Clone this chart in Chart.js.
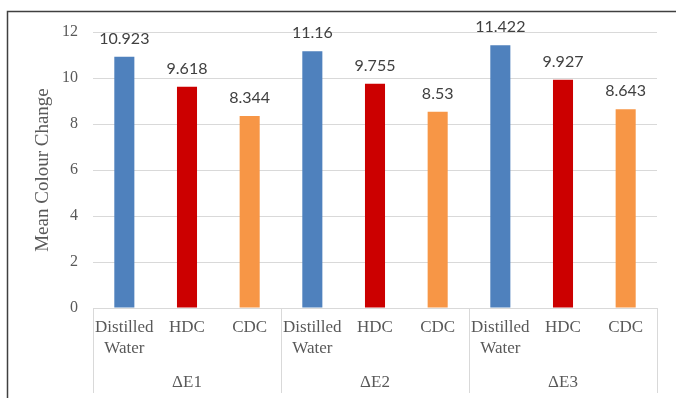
<!DOCTYPE html>
<html>
<head>
<meta charset="utf-8">
<script src="https://cdn.jsdelivr.net/npm/chart.js@4/dist/chart.umd.min.js"></script>
<style>
  html, body { margin: 0; padding: 0; background: #ffffff; }
  canvas { display: block; }
</style>
</head>
<body>
<canvas id="chart" width="676" height="398"></canvas>
<script>
// Colour-change measurements per solution, grouped by ΔE index
const groups = ['ΔE1', 'ΔE2', 'ΔE3'];
const solutions = [['Distilled', 'Water'], 'HDC', 'CDC'];
const distilledWater = [10.923, 11.16, 11.422];
const hdc = [9.618, 9.755, 9.927];
const cdc = [8.344, 8.53, 8.643];
const yTicks = [0, 2, 4, 6, 8, 10, 12];

const seriesBySolution = [distilledWater, hdc, cdc];
const solutionColours = ['#4F81BD', '#CC0000', '#F79646'];

// Flatten into one category per bar: group-major order
const labels = [];
const values = [];
const colours = [];
groups.forEach((g, gi) => {
  solutions.forEach((s, si) => {
    labels.push(s);
    values.push(seriesBySolution[si][gi]);
    colours.push(solutionColours[si]);
  });
});

const SERIF = "'Liberation Serif', 'Times New Roman', serif";
const TEXT_GREY = '#595959';
const GRID_GREY = '#d9d9d9';

// Outer frame (left and top edges)
const framePlugin = {
  id: 'frame',
  afterDraw(chart) {
    const ctx = chart.ctx;
    ctx.save();
    ctx.strokeStyle = '#404040';
    ctx.lineWidth = 1.5;
    ctx.beginPath();
    ctx.moveTo(7.5, chart.height);
    ctx.lineTo(7.5, 11.5);
    ctx.lineTo(chart.width, 11.5);
    ctx.stroke();
    ctx.restore();
  }
};

// Value labels above each bar
const valueLabels = {
  id: 'valueLabels',
  afterDatasetsDraw(chart) {
    const ctx = chart.ctx;
    const meta = chart.getDatasetMeta(0);
    ctx.save();
    ctx.font = "16px Lato, 'Open Sans', sans-serif";
    ctx.fillStyle = '#404040';
    ctx.textAlign = 'center';
    ctx.textBaseline = 'alphabetic';
    meta.data.forEach((bar, i) => {
      ctx.fillText(String(values[i]), bar.x, bar.y - 13);
    });
    ctx.restore();
  }
};

// Group separators and group captions under the category labels
const groupAxis = {
  id: 'groupAxis',
  afterDraw(chart) {
    const ctx = chart.ctx;
    const xs = chart.scales.x;
    const area = chart.chartArea;
    const per = solutions.length;
    const catW = xs.width / labels.length;
    const bottom = area.bottom + 85;
    ctx.save();
    ctx.strokeStyle = GRID_GREY;
    ctx.lineWidth = 1;
    for (let g = 0; g <= groups.length; g++) {
      const x = Math.round(xs.left + g * per * catW) + 0.5;
      ctx.beginPath();
      ctx.moveTo(x, area.bottom);
      ctx.lineTo(x, bottom);
      ctx.stroke();
    }
    ctx.font = '17px ' + SERIF;
    ctx.fillStyle = TEXT_GREY;
    ctx.textAlign = 'center';
    ctx.textBaseline = 'middle';
    groups.forEach((g, gi) => {
      const cx = xs.left + (gi * per + per / 2) * catW;
      ctx.fillText(g, cx, area.bottom + 75);
    });
    ctx.restore();
  }
};

new Chart(document.getElementById('chart'), {
  type: 'bar',
  data: {
    labels: labels,
    datasets: [{
      data: values,
      backgroundColor: colours,
      borderWidth: 0,
      categoryPercentage: 1,
      barPercentage: 0.32
    }]
  },
  options: {
    responsive: false,
    devicePixelRatio: 1,
    animation: false,
    layout: { padding: { top: 32, right: 19, bottom: 0, left: 0 } },
    plugins: {
      legend: { display: false },
      tooltip: { enabled: false }
    },
    scales: {
      x: {
        grid: { display: false, drawTicks: false },
        border: { display: false },
        ticks: {
          color: TEXT_GREY,
          font: { family: SERIF, size: 17, lineHeight: 1.24 },
          padding: 9,
          maxRotation: 0,
          autoSkip: false
        },
        afterFit(scale) { scale.height = 90; }
      },
      y: {
        min: yTicks[0],
        max: yTicks[yTicks.length - 1],
        afterBuildTicks(scale) { scale.ticks = yTicks.map(v => ({ value: v })); },
        grid: { color: GRID_GREY, lineWidth: 1, drawTicks: false },
        border: { display: false },
        ticks: {
          color: TEXT_GREY,
          font: { family: SERIF, size: 16 },
          padding: 15
        },
        title: {
          display: true,
          text: 'Mean Colour Change',
          color: TEXT_GREY,
          font: { family: SERIF, size: 19 },
          padding: { top: 32, bottom: 4 }
        },
        afterFit(scale) { scale.width = 93; }
      }
    }
  },
  plugins: [framePlugin, valueLabels, groupAxis]
});
</script>
</body>
</html>
